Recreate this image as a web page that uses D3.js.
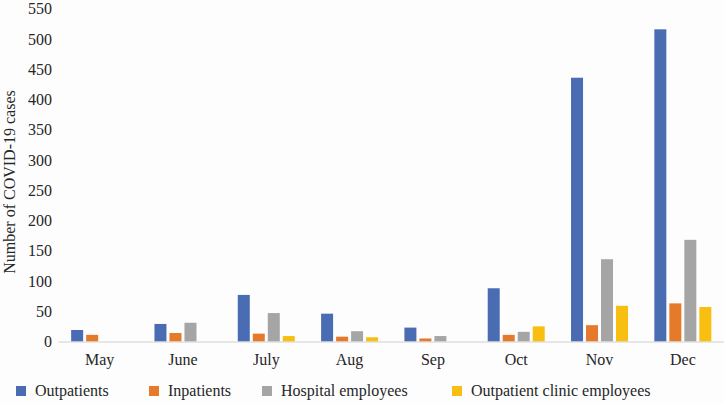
<!DOCTYPE html>
<html>
<head>
<meta charset="utf-8">
<script src="https://cdn.jsdelivr.net/npm/d3@7"></script>
<style>
  html, body { margin: 0; padding: 0; background: #fdfdfd; }
  svg { display: block; }
  svg text { font-family: "Liberation Serif", "Tinos", "Times New Roman", "DejaVu Serif", serif !important; fill: #262626; }
</style>
</head>
<body>
<script>
const months = ["May", "June", "July", "Aug", "Sep", "Oct", "Nov", "Dec"];
const seriesNames = ["Outpatients", "Inpatients", "Hospital employees", "Outpatient clinic employees"];
const outpatients = [19, 29, 77, 46, 23, 88, 436, 516];
const inpatients = [11, 14, 13, 8, 5, 11, 27, 63];
const hospitalEmployees = [0, 31, 47, 17, 9, 16, 136, 168];
const clinicEmployees = [0, 0, 9, 7, 0, 25, 59, 57];
const yTicks = [0, 50, 100, 150, 200, 250, 300, 350, 400, 450, 500, 550];
const colors = ["#4a6cb3", "#e57a2b", "#a6a5a5", "#f8bf10"];

const seriesValues = [outpatients, inpatients, hospitalEmployees, clinicEmployees];
const data = months.map((m, i) => ({
  month: m,
  values: seriesNames.map((s, j) => ({ series: s, value: seriesValues[j][i] }))
}));

const W = 724, H = 403;
const FS = "16px";
const svg = d3.select("body").append("svg").attr("width", W).attr("height", H);

const x0 = d3.scaleBand().domain(months).range([58, 724.5]).padding(0);
const x1 = d3.scaleBand().domain(seriesNames).range([0, 57]).paddingInner(0.2).paddingOuter(0);
const groupOffset = (x0.bandwidth() - 57) / 2;
const y = d3.scaleLinear().domain([0, 550]).range([341.5, 8.75]);

// y tick labels
const yAxis = d3.axisLeft(y).tickValues(yTicks).tickSize(0).tickPadding(0);
const gy = svg.append("g").attr("transform", "translate(52,0)").call(yAxis);
gy.attr("font-family", null).attr("font-size", null);
gy.select(".domain").remove();
gy.selectAll("text").style("font-size", FS).attr("fill", "#262626");

// bars
const groups = svg.append("g").selectAll("g").data(data).join("g")
  .attr("transform", d => `translate(${x0(d.month) + groupOffset},0)`);
groups.selectAll("rect").data(d => d.values.filter(v => v.value > 0)).join("rect")
  .attr("x", d => x1(d.series))
  .attr("width", x1.bandwidth())
  .attr("y", d => y(d.value))
  .attr("height", d => y(0) - y(d.value))
  .attr("fill", d => colors[seriesNames.indexOf(d.series)]);

// x axis
const xAxis = d3.axisBottom(x0).tickSize(0).tickPadding(12);
const gx = svg.append("g").attr("transform", `translate(0,${y(0)})`).call(xAxis);
gx.attr("font-family", null).attr("font-size", null);
gx.select(".domain").attr("stroke", "#d0d0d0").attr("stroke-width", 1);
gx.selectAll("text").style("font-size", FS).attr("fill", "#262626");

// y axis title
svg.append("text")
  .attr("transform", "translate(15,182) rotate(-90)")
  .attr("text-anchor", "middle")
  .style("font-size", FS)
  .text("Number of COVID-19 cases");

// legend
const legendX = [16, 149, 262, 452];
const lg = svg.append("g").selectAll("g").data(seriesNames).join("g")
  .attr("transform", (d, i) => `translate(${legendX[i]},391)`);
lg.append("rect").attr("x", 0).attr("y", -5).attr("width", 10).attr("height", 10)
  .attr("fill", (d, i) => colors[i]);
lg.append("text").attr("x", 19).attr("y", 5).style("font-size", FS).text(d => d);
</script>
</body>
</html>
